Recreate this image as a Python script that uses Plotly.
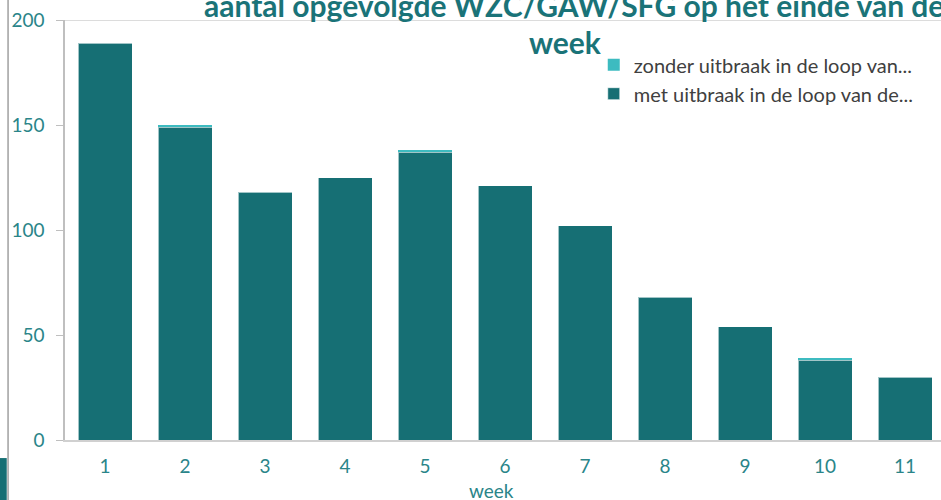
import plotly.graph_objects as go

weeks = ["1", "2", "3", "4", "5", "6", "7", "8", "9", "10", "11"]
met_uitbraak = [189, 149, 118, 125, 137, 121, 102, 68, 54, 38, 30]
zonder_uitbraak = [0, 1, 0, 0, 1, 0, 0, 0, 0, 1, 0]

name_met = "met uitbraak in de loop van de..."
name_zonder = "zonder uitbraak in de loop van..."
title_line1 = "aantal opgevolgde WZC/GAW/SFG op het einde van de"
title_line2 = "week"
x_title = "week"

DARK = "#166F74"
LIGHT = "#3DBBC0"
TEAL_TXT = "#2A8589"
FONT = "Lato"

fig = go.Figure()
fig.add_trace(go.Bar(x=weeks, y=met_uitbraak, name=name_met,
                     marker=dict(color=DARK, line=dict(color="rgba(255,255,255,0.6)", width=1)),
                     width=0.675))
fig.add_trace(go.Bar(x=weeks, y=zonder_uitbraak, name=name_zonder,
                     marker=dict(color=LIGHT, line=dict(width=0)),
                     width=0.675))

fig.update_layout(
    width=941, height=500,
    barmode="stack",
    margin=dict(l=65, r=0, t=20, b=60),
    plot_bgcolor="white", paper_bgcolor="white",
    font=dict(family=FONT, size=18, color=TEAL_TXT),
    showlegend=True,
    legend=dict(x=0.6036, y=0.94, xanchor="left", yanchor="top",
                traceorder="reversed", font=dict(size=20, color="#404040", family=FONT),
                bgcolor="rgba(0,0,0,0)", itemwidth=30, tracegroupgap=0),
    xaxis=dict(range=[-0.5, 10.45], showline=True, linecolor="#D0D0D0", linewidth=2,
               ticks="", showgrid=False, ticklabelstandoff=8,
               tickfont=dict(size=19, color=TEAL_TXT)),
    yaxis=dict(range=[0, 200], tickvals=[0, 50, 100, 150, 200], showgrid=False,
               showline=True, linecolor="#BFBFBF", linewidth=1.5,
               ticks="outside", ticklen=7, tickcolor="#BFBFBF", tickwidth=1,
               ticklabelstandoff=8,
               tickfont=dict(size=19, color=TEAL_TXT), zeroline=False),
    bargap=0.325,
)

# top gridline at 200
fig.add_shape(type="line", xref="paper", yref="y", x0=0, x1=1, y0=200, y1=200,
              line=dict(color="#D0D0D0", width=1.5))
# left edge artifacts
fig.add_shape(type="line", xref="paper", yref="paper", x0=-0.0650, x1=-0.0650, y0=-0.15, y1=1.06,
              line=dict(color="#A0A0A0", width=1.5))
fig.add_shape(type="rect", xref="paper", yref="paper", x0=-0.08, x1=-0.0665, y0=-0.15, y1=-0.043,
              line=dict(width=0), fillcolor=DARK)

fig.add_annotation(text="<b>" + title_line1 + "</b>", xref="paper", yref="paper",
                   x=(574 - 65) / 876, y=1.0357, xanchor="center", yanchor="middle", showarrow=False,
                   font=dict(size=30, color="#1A7378", family=FONT))
fig.add_annotation(text="<b>" + title_line2 + "</b>", xref="paper", yref="paper",
                   x=(565 - 65) / 876, y=0.9476, xanchor="center", yanchor="middle", showarrow=False,
                   font=dict(size=30, color="#1A7378", family=FONT))
fig.add_annotation(text=x_title, xref="paper", yref="paper",
                   x=(491 - 65) / 876, y=-(490 - 440) / 420, xanchor="center", yanchor="middle",
                   showarrow=False, font=dict(size=19, color=TEAL_TXT, family=FONT))

fig.write_html("out.html", config={"displayModeBar": False},
               post_script="document.body.style.margin='0';document.body.style.padding='0';")
